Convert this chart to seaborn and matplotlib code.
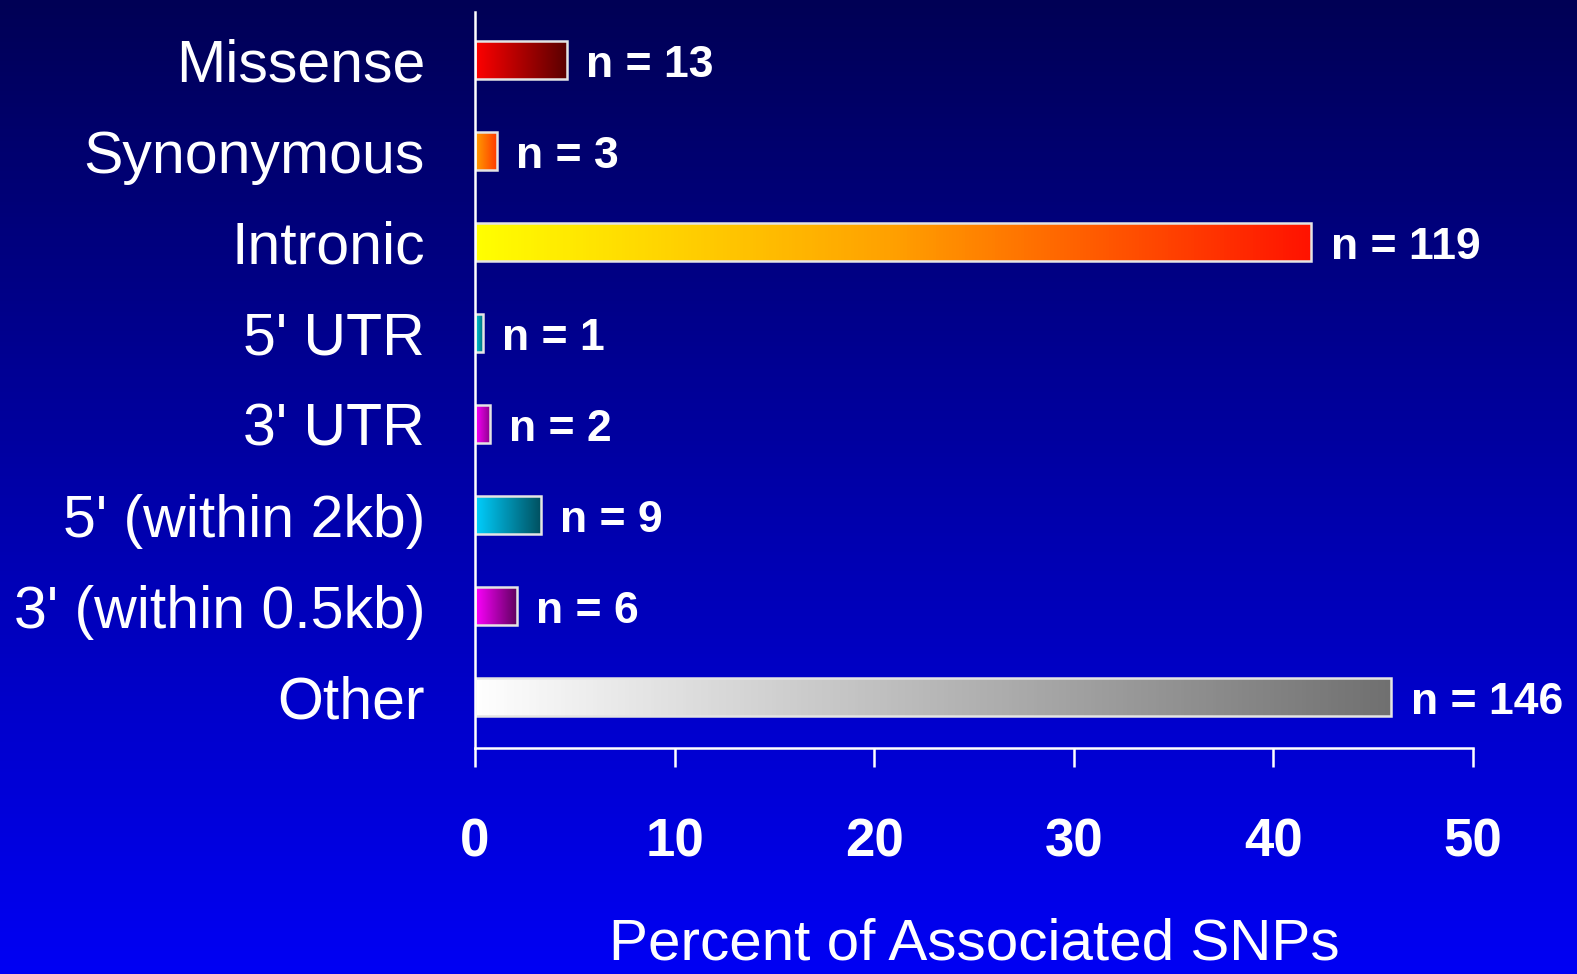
import matplotlib
matplotlib.use('Agg')
import matplotlib.pyplot as plt
from matplotlib.colors import LinearSegmentedColormap
import seaborn as sns
import pandas as pd
import numpy as np

categories = ['Missense', 'Synonymous', 'Intronic', "5' UTR", "3' UTR",
              "5' (within 2kb)", "3' (within 0.5kb)", 'Other']
percents = [4.6, 1.1, 41.9, 0.4, 0.75, 3.3, 2.1, 45.9]
counts = [13, 3, 119, 1, 2, 9, 6, 146]
gradients = [
    ['#ff0000', '#5a0000'],
    ['#ffa000', '#ff3a00'],
    ['#ffff00', '#ffa000', '#ff1200'],
    ['#00d0e0', '#007080'],
    ['#ff00ff', '#900090'],
    ['#00d0ff', '#005060'],
    ['#ff00ff', '#600060'],
    ['#ffffff', '#707070'],
]
xticks = [0, 10, 20, 30, 40, 50]

df = pd.DataFrame({'category': categories, 'percent': percents})

sns.set_style('white')
plt.rcParams['font.family'] = ['Liberation Sans', 'DejaVu Sans']

fig = plt.figure(figsize=(15.77, 9.74), dpi=100)

# background gradient navy -> bright blue
bg = fig.add_axes([0, 0, 1, 1], zorder=-10)
bg_cmap = LinearSegmentedColormap.from_list('bg', ['#000055', '#0000a8', '#0000f4'])
bg.imshow(np.linspace(0, 1, 256).reshape(-1, 1), aspect='auto', cmap=bg_cmap,
          extent=[0, 1, 0, 1], origin='upper')
bg.axis('off')

ax = fig.add_axes([475 / 1577, 1 - 748 / 974, 998 / 1577, 736 / 974])
ax.set_facecolor('none')
sns.barplot(data=df, x='percent', y='category', orient='h', ax=ax, width=0.42,
            color='white', edgecolor='#e4e4e4', linewidth=1.8)

for p, cols in zip(ax.patches, gradients):
    x0, y0, w, h = p.get_x(), p.get_y(), p.get_width(), p.get_height()
    cmap = LinearSegmentedColormap.from_list('g', cols)
    im = ax.imshow(np.linspace(0, 1, 256).reshape(1, -1), cmap=cmap, aspect='auto',
                   extent=[x0, x0 + w, y0 + h, y0], zorder=p.get_zorder() - 0.1)
    im.set_clip_path(p)
    p.set_facecolor('none')

for i, (v, n) in enumerate(zip(percents, counts)):
    ax.annotate(f'n = {n}', xy=(v, i), xytext=(14, -4), textcoords='offset points',
                ha='left', va='center', color='white', fontsize=32, fontweight='bold')

ax.set_xlim(0, 50)
ax.set_ylim(7.56, -0.53)
ax.set_xticks(xticks)
ax.set_xticklabels([str(t) for t in xticks], fontsize=38, fontweight='bold', color='white')
ax.set_yticks(range(len(categories)))
ax.set_yticklabels(categories, fontsize=42.5, color='white')
ax.tick_params(axis='x', bottom=True, direction='out', length=14, width=1.8,
               color='white', pad=36)
ax.tick_params(axis='y', left=False, length=0, pad=36)
ax.set_ylabel('')
ax.set_xlabel('Percent of Associated SNPs', fontsize=42, color='white')
ax.xaxis.set_label_coords(0.5, -0.288)
ax.xaxis.label.set_va('baseline')

for s in ['top', 'right']:
    ax.spines[s].set_visible(False)
for s in ['left', 'bottom']:
    ax.spines[s].set_color('white')
    ax.spines[s].set_linewidth(1.8)

fig.savefig('out.png', dpi=100)
